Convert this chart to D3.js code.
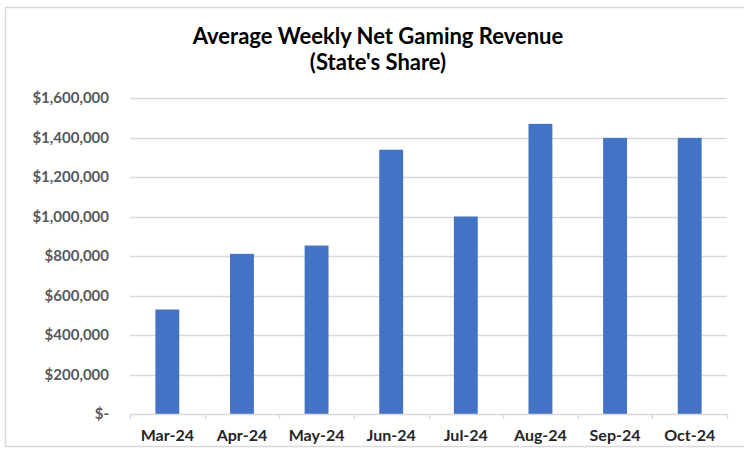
<!DOCTYPE html>
<html>
<head>
<meta charset="utf-8">
<script src="https://cdn.jsdelivr.net/npm/d3@7"></script>
<style>
  body { margin: 0; background: #fff; }
  text { font-family: Lato, "Liberation Sans", sans-serif; }
</style>
</head>
<body>
<div id="chart"></div>
<script>
// chart data
var months = ["Mar-24", "Apr-24", "May-24", "Jun-24", "Jul-24", "Aug-24", "Sep-24", "Oct-24"];
var revenue = [529000, 811000, 853000, 1338000, 1000000, 1469000, 1398000, 1398000];
var yTicks = [0, 200000, 400000, 600000, 800000, 1000000, 1200000, 1400000, 1600000];
var titleLines = ["Average Weekly Net Gaming Revenue", "(State's Share)"];

var data = months.map(function(m, i) { return { month: m, value: revenue[i] }; });

// set the dimensions and margins of the graph
var W = 744, H = 452;
var margin = {top: 98, right: 17, bottom: 38, left: 130},
    width = W - margin.left - margin.right,
    height = H - margin.top - margin.bottom;

var root = d3.select("#chart")
  .append("svg")
    .attr("width", W)
    .attr("height", H);

// chart border
root.append("rect")
  .attr("x", 5.5).attr("y", 7.5)
  .attr("width", 745).attr("height", 439)
  .attr("fill", "#fff")
  .attr("stroke", "#d9d9d9")
  .attr("stroke-width", 1.5);

// title
root.append("text")
  .attr("x", 378).attr("y", 44)
  .attr("text-anchor", "middle")
  .attr("font-size", 22)
  .attr("font-weight", "bold")
  .attr("fill", "#000")
  .selectAll("tspan")
  .data(titleLines)
  .enter().append("tspan")
    .attr("x", 378)
    .attr("dy", function(d, i) { return i === 0 ? 0 : 26; })
    .text(function(d) { return d; });

var svg = root.append("g")
  .attr("transform", "translate(" + margin.left + "," + margin.top + ")");

// scales
var x = d3.scaleBand()
  .domain(months)
  .range([0, width])
  .paddingInner(0.68)
  .paddingOuter(0.34);

var y = d3.scaleLinear()
  .domain([0, 1600000])
  .range([height, 0]);

// gridlines
svg.append("g")
  .selectAll("line")
  .data(yTicks.slice(1))
  .enter().append("line")
    .attr("x1", 0).attr("x2", width)
    .attr("y1", function(d) { return Math.round(y(d)) + 0.5; })
    .attr("y2", function(d) { return Math.round(y(d)) + 0.5; })
    .attr("stroke", "#d9d9d9")
    .attr("stroke-width", 1.5);

// Y axis labels
var fmt = d3.format(",");
var yAxis = svg.append("g")
  .call(d3.axisLeft(y).tickValues(yTicks).tickSize(0).tickPadding(21)
    .tickFormat(function(d) { return d === 0 ? "$-" : "$" + fmt(d); }));
yAxis.select(".domain").remove();
yAxis.selectAll("text")
  .attr("font-family", "Lato, 'Liberation Sans', sans-serif")
  .attr("font-size", 15)
  .attr("font-weight", "bold")
  .attr("fill", "#595959");

// bars
svg.selectAll(".bar")
  .data(data)
  .enter().append("rect")
    .attr("class", "bar")
    .attr("x", function(d) { return x(d.month); })
    .attr("y", function(d) { return y(d.value); })
    .attr("width", x.bandwidth())
    .attr("height", function(d) { return height - y(d.value); })
    .attr("fill", "#4472c4");

// X axis
var step = x.step();
var xAxis = svg.append("g")
  .attr("transform", "translate(0," + height + ")");
xAxis.append("line")
  .attr("x1", 0).attr("x2", width)
  .attr("y1", 0.5).attr("y2", 0.5)
  .attr("stroke", "#d9d9d9")
  .attr("stroke-width", 1.5);
xAxis.selectAll(".tk")
  .data(d3.range(months.length + 1))
  .enter().append("line")
    .attr("class", "tk")
    .attr("x1", function(i) { return Math.round(i * step) + 0.5; })
    .attr("x2", function(i) { return Math.round(i * step) + 0.5; })
    .attr("y1", 0).attr("y2", 5)
    .attr("stroke", "#d9d9d9")
    .attr("stroke-width", 1.5);
xAxis.selectAll(".lbl")
  .data(months)
  .enter().append("text")
    .attr("class", "lbl")
    .attr("x", function(d) { return x(d) + x.bandwidth() / 2; })
    .attr("y", 27)
    .attr("text-anchor", "middle")
    .attr("font-size", 16)
    .attr("font-weight", "bold")
    .attr("fill", "#262626")
    .text(function(d) { return d; });
</script>
</body>
</html>
